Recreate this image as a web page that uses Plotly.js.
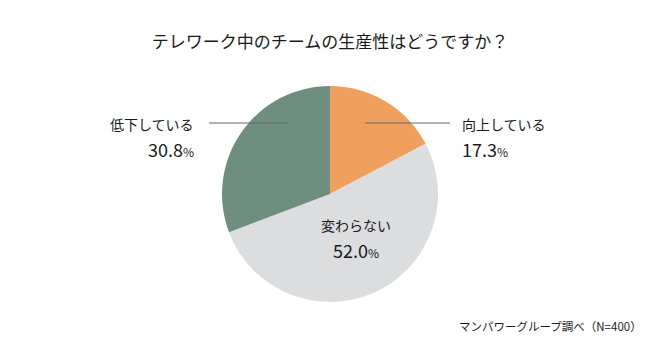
<!DOCTYPE html>
<html><head><meta charset="utf-8">
<script src="https://cdn.plot.ly/plotly-3.0.1.min.js"></script>
<style>html,body{margin:0;padding:0;background:#fff}#c{width:660px;height:360px}</style>
</head><body><div id="c"></div>
<script>
const labels = ['向上している', '変わらない', '低下している'];
const values = [17.3, 52.0, 30.8];
const colors = ['#EFA05C', '#DCDDDF', '#6E8F80'];
const titleText = 'テレワーク中のチームの生産性はどうですか？';
const sourceText = 'マンパワーグループ調べ（N=400）';

const F = 'Noto Sans CJK JP, Noto Sans, sans-serif';
const pct = v => v.toFixed(1) + '<span style="font-size:12px">%</span>';

const trace = {
  type: 'pie', labels: labels, values: values, sort: false,
  direction: 'clockwise', rotation: 0,
  marker: {colors: colors, line: {width: 0}},
  textinfo: 'none', hoverinfo: 'none', showlegend: false,
  domain: {x: [222/660, 438/660], y: [58/360, 274/360]}
};

const pos = [
  {x: 460, y: 124, xa: 'left'},
  {x: 356, y: 225, xa: 'center'},
  {x: 196, y: 124, xa: 'right'}
];
const ann = [];
labels.forEach((l, i) => {
  const p = pos[i];
  ann.push({xref: 'paper', yref: 'paper', x: p.x/660, y: 1 - p.y/360, text: l, showarrow: false,
    xanchor: p.xa, yanchor: 'middle', font: {family: F, size: 14, color: '#1a1a1a'}});
  ann.push({xref: 'paper', yref: 'paper', x: p.x/660, y: 1 - (p.y + 25)/360, text: pct(values[i]), showarrow: false,
    xanchor: p.xa, yanchor: 'middle', font: {family: F, size: 18, color: '#1a1a1a'}});
});
ann.push({xref: 'paper', yref: 'paper', x: 457/660, y: 1 - 326/360, text: sourceText, showarrow: false,
  xanchor: 'left', yanchor: 'middle', font: {family: F, size: 11.5, color: '#1a1a1a'}});

const layout = {
  width: 660, height: 360, margin: {l: 0, r: 0, t: 0, b: 0},
  paper_bgcolor: '#fff', plot_bgcolor: '#fff',
  title: {text: titleText, x: 0.5, xanchor: 'center', y: 1 - 42/360, yanchor: 'middle',
    font: {family: F, size: 17, color: '#1a1a1a'}},
  annotations: ann,
  shapes: [
    {type: 'line', xref: 'paper', yref: 'paper', x0: 209/660, x1: 288/660, y0: 1 - 123/360, y1: 1 - 123/360,
      line: {color: '#666', width: 1}},
    {type: 'line', xref: 'paper', yref: 'paper', x0: 365/660, x1: 450/660, y0: 1 - 123/360, y1: 1 - 123/360,
      line: {color: '#666', width: 1}}
  ]
};
Plotly.newPlot('c', [trace], layout, {staticPlot: true});
</script></body></html>
